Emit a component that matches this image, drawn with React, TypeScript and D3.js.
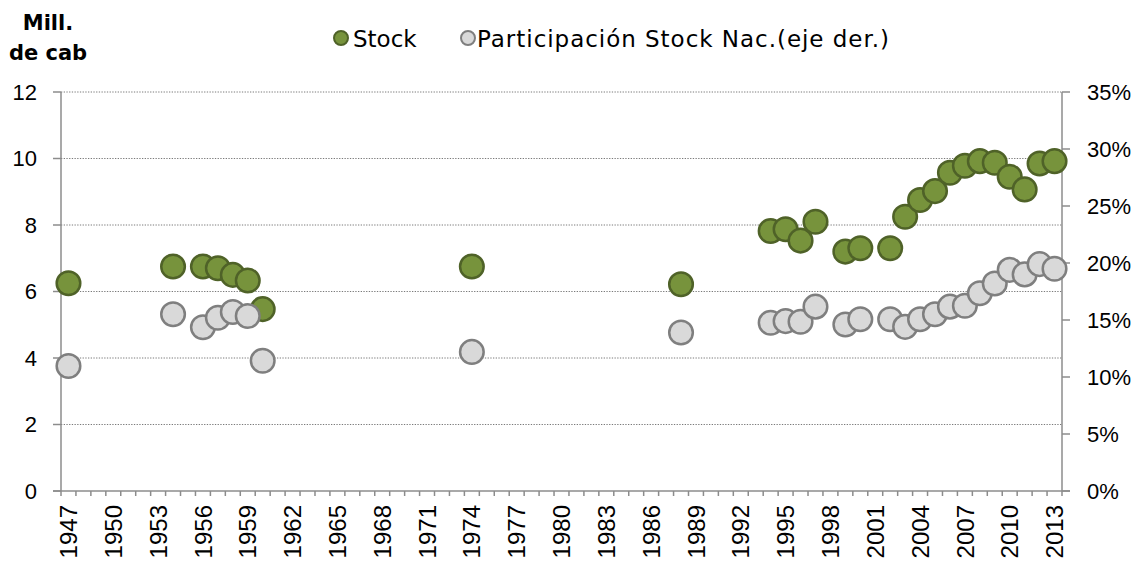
import React from "react";
import * as d3 from "d3";

const categories: number[] = [
  1947, 1948, 1949, 1950, 1951, 1952, 1953, 1954, 1955, 1956, 1957, 1958, 1959, 1960,
  1961, 1962, 1963, 1964, 1965, 1966, 1967, 1968, 1969, 1970, 1971, 1972, 1973, 1974,
  1975, 1976, 1977, 1978, 1979, 1980, 1981, 1982, 1983, 1984, 1985, 1986, 1987, 1988,
  1989, 1990, 1991, 1992, 1993, 1994, 1995, 1996, 1997, 1998, 1999, 2000, 2001, 2002,
  2003, 2004, 2005, 2006, 2007, 2008, 2009, 2010, 2011, 2012, 2013,
];
const labelYears: number[] = [
  1947, 1950, 1953, 1956, 1959, 1962, 1965, 1968, 1971, 1974, 1977, 1980, 1983,
  1986, 1989, 1992, 1995, 1998, 2001, 2004, 2007, 2010, 2013,
];
const dataYears: number[] = [
  1947, 1954, 1956, 1957, 1958, 1959, 1960, 1974, 1988, 1994, 1995, 1996, 1997,
  1999, 2000, 2002, 2003, 2004, 2005, 2006, 2007, 2008, 2009, 2010, 2011, 2012, 2013,
];
const stockValues: number[] = [
  6.25, 6.75, 6.75, 6.7, 6.5, 6.33, 5.47, 6.75, 6.22, 7.82, 7.87, 7.53, 8.1,
  7.2, 7.3, 7.3, 8.25, 8.75, 9.02, 9.57, 9.78, 9.92, 9.87, 9.45, 9.07, 9.85, 9.92,
];
const shareValues: number[] = [
  10.96, 15.5, 14.36, 15.2, 15.7, 15.35, 11.43, 12.2, 13.9, 14.76, 14.9, 14.85, 16.17,
  14.6, 15.06, 15.06, 14.4, 15.06, 15.5, 16.17, 16.25, 17.34, 18.2, 19.4, 19.0, 19.9, 19.5,
];
const leftTicks: number[] = [0, 2, 4, 6, 8, 10, 12];
const rightTicks: number[] = [0, 5, 10, 15, 20, 25, 30, 35];
const seriesNames: string[] = ["Stock", "Participación Stock Nac.(eje der.)"];
const yTitle: string[] = ["Mill.", "de cab"];

const W = 1133;
const H = 565;
const L = 61;
const R = 1062;
const T = 92;
const B = 491;

const GREEN = "#77933C";
const GREEN_S = "#4F6228";
const GREY = "#D9D9D9";
const GREY_S = "#7F7F7F";
const AXIS = "#8C8C8C";
const AX_FONT = "'Liberation Sans', Arial, sans-serif";
const LG_FONT = "'DejaVu Sans', Verdana, sans-serif";

export default function App() {
  const x = d3.scaleBand<number>().domain(categories).range([L, R]).padding(0);
  const yL = d3.scaleLinear().domain([0, 12]).range([B, T]);
  const yR = d3.scaleLinear().domain([0, 35]).range([B, T]);
  const cx = (yr: number) => (x(yr) as number) + x.bandwidth() / 2;
  const r = 11.8;

  const boundaries = categories.map((c) => x(c) as number).concat([R]);

  return (
    <svg
      width={W}
      height={H}
      style={{ position: "absolute", left: 0, top: 0, background: "#fff" }}
    >
      {/* gridlines */}
      {leftTicks.filter((t) => t > 0).map((t) => (
        <line
          key={"g" + t}
          x1={L}
          x2={R}
          y1={yL(t)}
          y2={yL(t)}
          stroke="#7a7a7a"
          strokeWidth={1}
          strokeDasharray="1.3,1.4"
        />
      ))}
      {/* left axis */}
      <line x1={L} x2={L} y1={T} y2={B} stroke={AXIS} strokeWidth={1.5} />
      {leftTicks.map((t) => (
        <g key={"l" + t}>
          <line x1={L - 8} x2={L} y1={yL(t)} y2={yL(t)} stroke={AXIS} strokeWidth={1.5} />
          <text
            x={37}
            y={yL(t)}
            dy="0.36em"
            textAnchor="end"
            fontFamily={AX_FONT}
            fontSize={22}
            fill="#000"
          >
            {t}
          </text>
        </g>
      ))}
      {/* right axis */}
      <line x1={R} x2={R} y1={T} y2={B} stroke={AXIS} strokeWidth={1.5} />
      {rightTicks.map((t) => (
        <g key={"r" + t}>
          <line x1={R} x2={R + 8} y1={yR(t)} y2={yR(t)} stroke={AXIS} strokeWidth={1.5} />
          <text
            x={1087}
            y={yR(t)}
            dy="0.36em"
            textAnchor="start"
            fontFamily={AX_FONT}
            fontSize={22}
            fill="#000"
          >
            {t + "%"}
          </text>
        </g>
      ))}
      {/* x axis */}
      <line x1={L - 8} x2={R + 8} y1={B} y2={B} stroke={AXIS} strokeWidth={1.5} />
      {boundaries.map((bx, i) => (
        <line key={"xt" + i} x1={bx} x2={bx} y1={B} y2={B + 5} stroke={AXIS} strokeWidth={1.5} />
      ))}
      {labelYears.map((yr) => (
        <text
          key={"xl" + yr}
          transform={`translate(${cx(yr)},505) rotate(-90)`}
          dy="0.36em"
          textAnchor="end"
          fontFamily={AX_FONT}
          fontSize={24}
          fill="#000"
        >
          {yr}
        </text>
      ))}
      {/* y title */}
      <text
        x={48}
        y={30}
        textAnchor="middle"
        fontFamily={LG_FONT}
        fontWeight="bold"
        fontSize={21}
        fill="#000"
      >
        {yTitle[0]}
      </text>
      <text
        x={48}
        y={60}
        textAnchor="middle"
        fontFamily={LG_FONT}
        fontWeight="bold"
        fontSize={21}
        fill="#000"
      >
        {yTitle[1]}
      </text>
      {/* legend */}
      <circle cx={341} cy={38} r={7} fill={GREEN} stroke={GREEN_S} strokeWidth={2} />
      <text x={353} y={47} fontFamily={LG_FONT} fontSize={23} fill="#000">
        {seriesNames[0]}
      </text>
      <circle cx={468} cy={38} r={7} fill={GREY} stroke={GREY_S} strokeWidth={2} />
      <text
        x={477}
        y={47}
        fontFamily={LG_FONT}
        fontSize={23}
        fill="#000"
        textLength={412}
        lengthAdjust="spacing"
      >
        {seriesNames[1]}
      </text>
      {/* stock series */}
      {dataYears.map((yr, i) => (
        <circle
          key={"s" + yr}
          cx={cx(yr)}
          cy={yL(stockValues[i])}
          r={r}
          fill={GREEN}
          stroke={GREEN_S}
          strokeWidth={2.5}
        />
      ))}
      {/* share series */}
      {dataYears.map((yr, i) => (
        <circle
          key={"p" + yr}
          cx={cx(yr)}
          cy={yR(shareValues[i])}
          r={r}
          fill={GREY}
          stroke={GREY_S}
          strokeWidth={2.5}
        />
      ))}
    </svg>
  );
}
